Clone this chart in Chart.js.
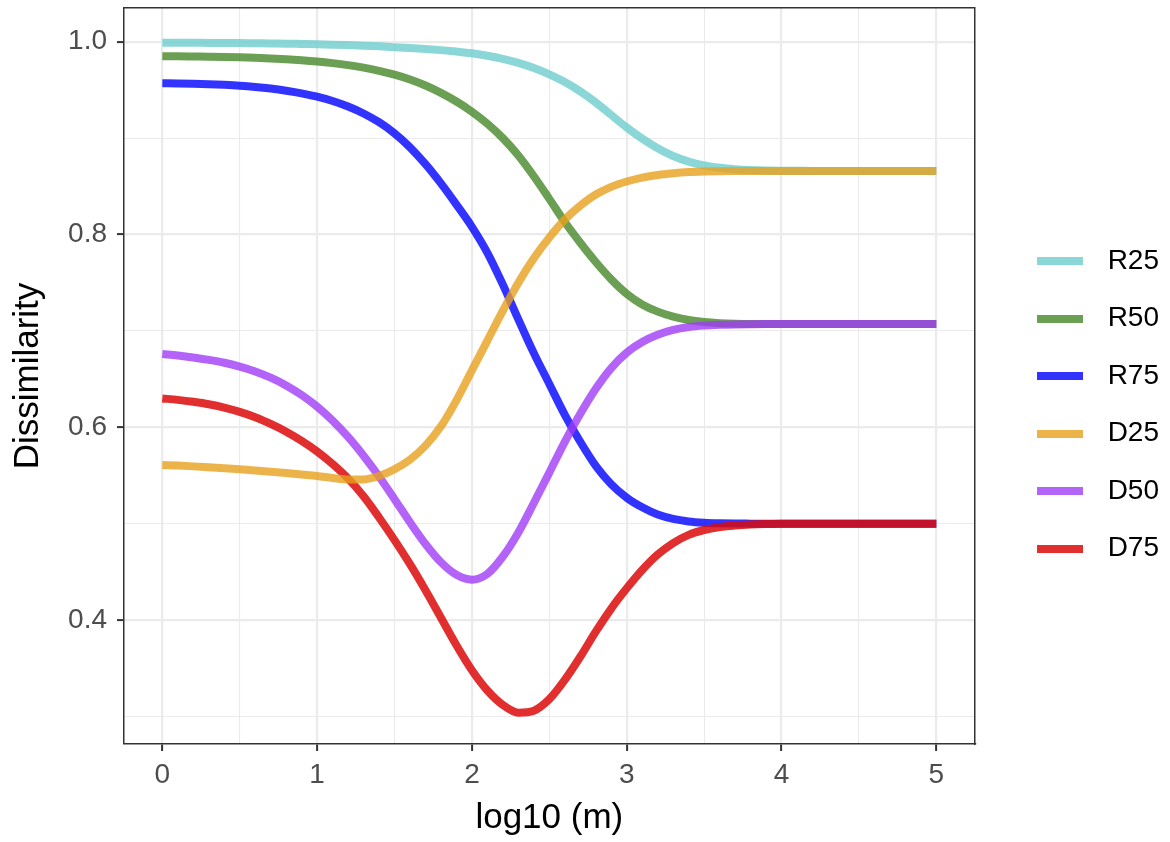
<!DOCTYPE html>
<html>
<head>
<meta charset="utf-8">
<script src="https://cdn.jsdelivr.net/npm/chart.js@4.4.1/dist/chart.umd.min.js"></script>
<style>
  html, body { margin: 0; padding: 0; background: #fff; }
  #wrap { width: 1170px; height: 842px; }
</style>
</head>
<body>
<div id="wrap"><canvas id="myChart" width="1170" height="842"></canvas></div>
<script>
// x positions, log10(m)
const logM = [0, 0.1, 0.2, 0.3, 0.4, 0.5, 0.6, 0.7, 0.8, 0.9,
  1, 1.1, 1.2, 1.3, 1.4, 1.5, 1.6, 1.7, 1.8, 1.9,
  2, 2.1, 2.2, 2.3, 2.4, 2.5, 2.6, 2.7, 2.8, 2.9,
  3, 3.1, 3.2, 3.3, 3.4, 3.5, 3.6, 3.7, 3.8, 3.9,
  4, 4.1, 4.2, 4.3, 4.4, 4.5, 4.6, 4.7, 4.8, 4.9, 5];

const R25 = [0.9990, 0.9990, 0.9989, 0.9988, 0.9987, 0.9986, 0.9984, 0.9982, 0.9980, 0.9977,
  0.9974, 0.9970, 0.9965, 0.9959, 0.9952, 0.9944, 0.9935, 0.9925, 0.9913, 0.9898,
  0.9880, 0.9855, 0.9822, 0.9780, 0.9727, 0.9662, 0.9582, 0.9485, 0.9370, 0.9240,
  0.9110, 0.8995, 0.8895, 0.8815, 0.8757, 0.8718, 0.8693, 0.8678, 0.8669, 0.8664,
  0.8662, 0.8661, 0.8660, 0.8660, 0.8660, 0.8660, 0.8660, 0.8660, 0.8660, 0.8660, 0.8660];
const R50 = [0.9850, 0.9849, 0.9847, 0.9845, 0.9842, 0.9838, 0.9833, 0.9826, 0.9818, 0.9808,
  0.9795, 0.9778, 0.9757, 0.9731, 0.9698, 0.9658, 0.9608, 0.9546, 0.9470, 0.9380,
  0.9275, 0.9150, 0.9000, 0.8820, 0.8605, 0.8370, 0.8130, 0.7915, 0.7715, 0.7535,
  0.7385, 0.7275, 0.7200, 0.7148, 0.7113, 0.7092, 0.7080, 0.7074, 0.7072, 0.7071,
  0.7071, 0.7071, 0.7071, 0.7071, 0.7071, 0.7071, 0.7071, 0.7071, 0.7071, 0.7071, 0.7071];
const R75 = [0.9570, 0.9568, 0.9565, 0.9560, 0.9553, 0.9544, 0.9531, 0.9514, 0.9492, 0.9465,
  0.9430, 0.9385, 0.9328, 0.9256, 0.9165, 0.9050, 0.8905, 0.8730, 0.8530, 0.8310,
  0.8080, 0.7810, 0.7480, 0.7120, 0.6770, 0.6450, 0.6130, 0.5850, 0.5600, 0.5410,
  0.5270, 0.5170, 0.5095, 0.5050, 0.5024, 0.5011, 0.5005, 0.5002, 0.5001, 0.5000,
  0.5000, 0.5000, 0.5000, 0.5000, 0.5000, 0.5000, 0.5000, 0.5000, 0.5000, 0.5000, 0.5000];
const D25 = [0.5610, 0.5603, 0.5595, 0.5586, 0.5576, 0.5565, 0.5553, 0.5540, 0.5526, 0.5511,
  0.5496, 0.5475, 0.5458, 0.5460, 0.5495, 0.5565, 0.5665, 0.5810, 0.6010, 0.6280,
  0.6590, 0.6900, 0.7210, 0.7500, 0.7755, 0.7970, 0.8155, 0.8300, 0.8415, 0.8495,
  0.8550, 0.8590, 0.8618, 0.8636, 0.8648, 0.8654, 0.8657, 0.8659, 0.8660, 0.8660,
  0.8660, 0.8660, 0.8660, 0.8660, 0.8660, 0.8660, 0.8660, 0.8660, 0.8660, 0.8660, 0.8660];
const D50 = [0.6760, 0.6745, 0.6725, 0.6700, 0.6670, 0.6630, 0.6580, 0.6515, 0.6435, 0.6335,
  0.6215, 0.6070, 0.5900, 0.5705, 0.5490, 0.5255, 0.5015, 0.4790, 0.4600, 0.4470,
  0.4420, 0.4480, 0.4660, 0.4910, 0.5215, 0.5530, 0.5850, 0.6140, 0.6400, 0.6615,
  0.6775, 0.6885, 0.6960, 0.7010, 0.7040, 0.7056, 0.7064, 0.7068, 0.7070, 0.7071,
  0.7071, 0.7071, 0.7071, 0.7071, 0.7071, 0.7071, 0.7071, 0.7071, 0.7071, 0.7071, 0.7071];
const D75 = [0.6300, 0.6285, 0.6265, 0.6240, 0.6205, 0.6160, 0.6105, 0.6035, 0.5955, 0.5860,
  0.5750, 0.5620, 0.5470, 0.5285, 0.5065, 0.4830, 0.4580, 0.4310, 0.4025, 0.3740,
  0.3480, 0.3270, 0.3120, 0.3040, 0.3060, 0.3180, 0.3380, 0.3620, 0.3880, 0.4120,
  0.4330, 0.4520, 0.4680, 0.4800, 0.4885, 0.4935, 0.4965, 0.4982, 0.4992, 0.4997,
  0.5000, 0.5000, 0.5000, 0.5000, 0.5000, 0.5000, 0.5000, 0.5000, 0.5000, 0.5000, 0.5000];

const seriesNames = ['R25', 'R50', 'R75', 'D25', 'D50', 'D75'];
const seriesValues = [R25, R50, R75, D25, D50, D75];
const seriesColors = ['rgba(110,205,205,0.8)', 'rgba(70,135,40,0.8)', 'rgba(0,0,255,0.8)',
  'rgba(232,160,30,0.8)', 'rgba(160,60,245,0.8)', 'rgba(220,10,10,0.85)'];

const xMajor = [0, 1, 2, 3, 4, 5];
const xMinor = [0.5, 1.5, 2.5, 3.5, 4.5];
const xTickLabels = ['0', '1', '2', '3', '4', '5'];
const yMajor = [0.4, 0.6, 0.8, 1.0];
const yMinor = [0.3, 0.5, 0.7, 0.9];
const yTickLabels = ['0.4', '0.6', '0.8', '1.0'];

const fontFamily = "'Liberation Sans', Arial, Helvetica, sans-serif";
Chart.defaults.font.family = fontFamily;

// legend key: a short thick bar
function keyBar(color) {
  const c = document.createElement('canvas');
  c.width = 46;
  c.height = 8;
  const g = c.getContext('2d');
  g.fillStyle = color;
  g.fillRect(0, 0, 46, 8);
  return c;
}

const datasets = seriesNames.map((name, i) => ({
  label: name,
  data: logM.map((x, j) => ({ x: x, y: seriesValues[i][j] })),
  borderColor: seriesColors[i],
  backgroundColor: seriesColors[i],
  borderWidth: 8,
  pointRadius: 0,
  pointStyle: keyBar(seriesColors[i]),
  fill: false,
  cubicInterpolationMode: 'monotone',
  order: i < 3 ? 2 : 1
}));

const gridFor = (major) => ({
  color: '#ebebeb',
  lineWidth: c => (c.tick && major.includes(c.tick.value)) ? 2.2 : 1.1,
  tickLength: 7,
  tickWidth: 2,
  tickColor: c => (c.tick && major.includes(c.tick.value)) ? '#333333' : 'rgba(0,0,0,0)'
});

new Chart(document.getElementById('myChart'), {
  type: 'line',
  data: { datasets: datasets },
  options: {
    responsive: false,
    animation: false,
    events: [],
    layout: { padding: { left: 0, top: 0, right: 1, bottom: 32.5 } },
    plugins: {
      tooltip: { enabled: false },
      legend: {
        position: 'right',
        labels: {
          usePointStyle: true,
          pointStyleWidth: 68,
          padding: 29.5,
          color: '#000',
          font: { size: 28 },
          sort: (a, b) => a.datasetIndex - b.datasetIndex
        }
      }
    },
    scales: {
      x: {
        type: 'linear',
        position: 'bottom',
        min: -0.2475,
        max: 5.2475,
        afterBuildTicks: s => { s.ticks = xMajor.concat(xMinor).sort((a, b) => a - b).map(v => ({ value: v })); },
        afterFit: s => { s.height = 65.5; s.paddingLeft = 0; s.paddingRight = 0; },
        ticks: {
          autoSkip: false,
          maxRotation: 0,
          padding: 7,
          color: '#4d4d4d',
          font: { size: 28 },
          callback: v => { const i = xMajor.indexOf(v); return i >= 0 ? xTickLabels[i] : ''; }
        },
        grid: gridFor(xMajor),
        border: { color: '#333333', width: 1.5 },
        title: { display: true, text: 'log10 (m)', color: '#000', font: { size: 35 }, padding: { top: 0, bottom: -29.5 } }
      },
      y: {
        type: 'linear',
        position: 'left',
        min: 0.2715,
        max: 1.035,
        afterBuildTicks: s => { s.ticks = yMinor.concat(yMajor).sort((a, b) => a - b).map(v => ({ value: v })); },
        afterFit: s => { s.width = 124; s.paddingTop = 0; s.paddingBottom = 0; },
        ticks: {
          autoSkip: false,
          padding: 10,
          color: '#4d4d4d',
          font: { size: 28 },
          callback: v => { const i = yMajor.indexOf(v); return i >= 0 ? yTickLabels[i] : ''; }
        },
        grid: gridFor(yMajor),
        border: { color: '#333333', width: 1.5 },
        title: { display: true, text: 'Dissimilarity', color: '#000', font: { size: 35 }, padding: { top: 7, bottom: 0 } }
      },
      xTop: {
        type: 'linear',
        position: 'top',
        ticks: { display: false },
        grid: { display: false },
        border: { color: '#333333', width: 1.5 },
        afterFit: s => { s.height = 8; s.paddingLeft = 0; s.paddingRight = 0; }
      },
      yRight: {
        type: 'linear',
        position: 'right',
        ticks: { display: false },
        grid: { display: false },
        border: { color: '#333333', width: 1.5 },
        afterFit: s => { s.width = 21.5; s.paddingTop = 0; s.paddingBottom = 0; }
      }
    }
  }
});
</script>
</body>
</html>
